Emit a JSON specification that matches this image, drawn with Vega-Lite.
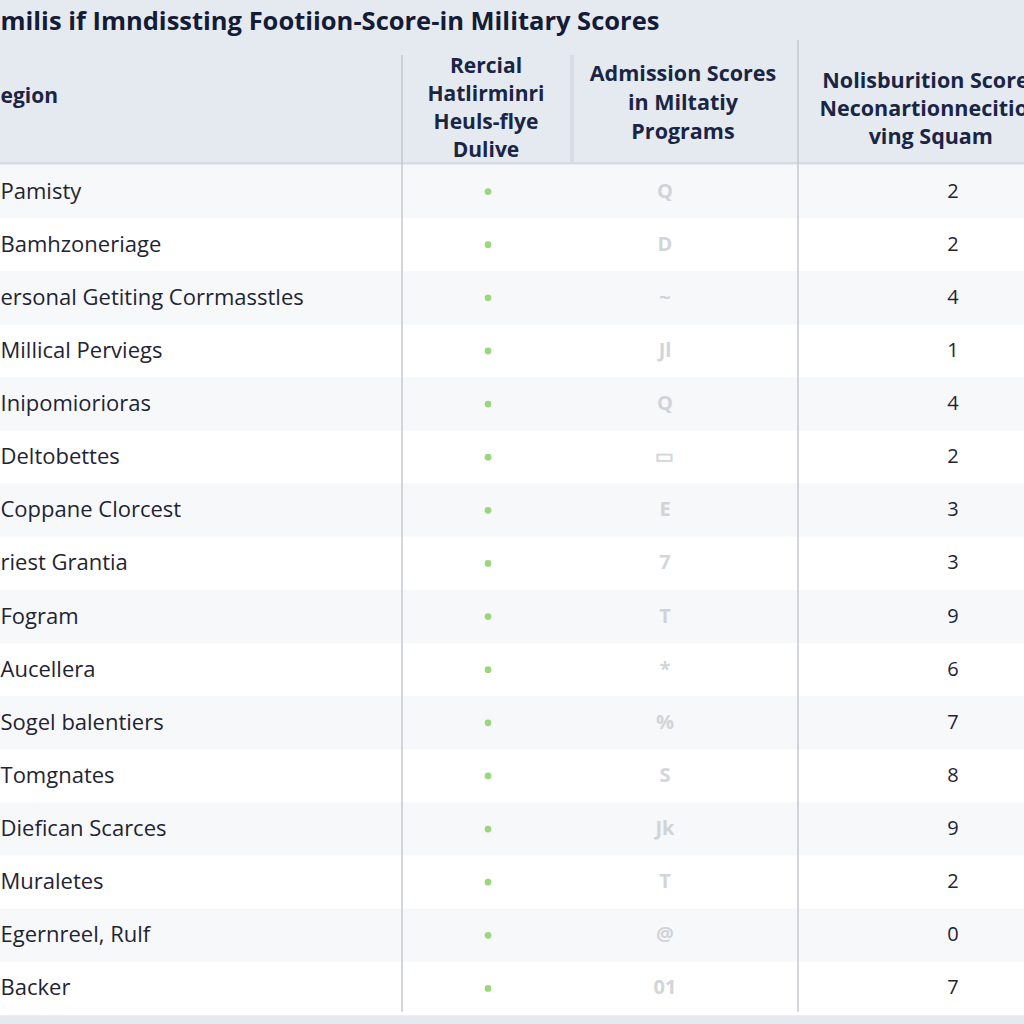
{
  "$schema": "https://vega.github.io/schema/vega-lite/v6.json",
  "width": 1024,
  "height": 1024,
  "autosize": {"type": "none"},
  "padding": 0,
  "background": "#e5eaf0",
  "config": {"view": {"stroke": null}, "font": "Open Sans"},
  "datasets": {
    "rows": [
      {"i": 1, "region": "Pamisty", "glyph": "Q", "score": "2"},
      {"i": 2, "region": "Bamhzoneriage", "glyph": "D", "score": "2"},
      {"i": 3, "region": "ersonal Getiting Corrmasstles", "glyph": "~", "score": "4"},
      {"i": 4, "region": "Millical Perviegs", "glyph": "Jl", "score": "1"},
      {"i": 5, "region": "Inipomiorioras", "glyph": "Q", "score": "4"},
      {"i": 6, "region": "Deltobettes", "glyph": "▭", "score": "2"},
      {"i": 7, "region": "Coppane Clorcest", "glyph": "E", "score": "3"},
      {"i": 8, "region": "riest Grantia", "glyph": "7", "score": "3"},
      {"i": 9, "region": "Fogram", "glyph": "T", "score": "9"},
      {"i": 10, "region": "Aucellera", "glyph": "*", "score": "6"},
      {"i": 11, "region": "Sogel balentiers", "glyph": "%", "score": "7"},
      {"i": 12, "region": "Tomgnates", "glyph": "S", "score": "8"},
      {"i": 13, "region": "Diefican Scarces", "glyph": "Jk", "score": "9"},
      {"i": 14, "region": "Muraletes", "glyph": "T", "score": "2"},
      {"i": 15, "region": "Egernreel, Rulf", "glyph": "@", "score": "0"},
      {"i": 16, "region": "Backer", "glyph": "01", "score": "7"}
    ]
  },
  "data": {"name": "rows"},
  "layer": [
    {
      "mark": {"type": "rule", "strokeWidth": 53.6, "strokeCap": "butt"},
      "encoding": {
        "x": {"datum": 0, "type": "quantitative", "scale": {"domain": [0, 100], "nice": false, "zero": false}, "axis": null},
        "x2": {"datum": 100},
        "y": {"field": "i", "type": "quantitative", "scale": {"domain": [-2.606, 16.669], "reverse": true, "nice": false, "zero": false}, "axis": null},
        "color": {"condition": {"test": "datum.i % 2 == 1", "value": "#f7f8fa"}, "value": "#ffffff"}
      }
    },
    {
      "data": {"values": [{}]},
      "mark": {"type": "rule", "strokeWidth": 2, "color": "#d6dce2"},
      "encoding": {"x": {"datum": 0}, "x2": {"datum": 100}, "y": {"datum": 0.46}}
    },
    {
      "data": {"values": [{}]},
      "mark": {"type": "rule", "strokeWidth": 1.5, "color": "#c3c9cf"},
      "encoding": {"x": {"datum": 39.26}, "y": {"datum": -1.571}, "y2": {"datum": 16.44}}
    },
    {
      "data": {"values": [{}]},
      "mark": {"type": "rule", "strokeWidth": 1.5, "color": "#c3c9cf"},
      "encoding": {"x": {"datum": 77.93}, "y": {"datum": -1.853}, "y2": {"datum": 16.44}}
    },
    {
      "data": {"values": [{}]},
      "mark": {"type": "rule", "strokeWidth": 4, "color": "#d3d9df", "opacity": 0.7},
      "encoding": {"x": {"datum": 55.86}, "y": {"datum": -1.571}, "y2": {"datum": 0.45}}
    },
    {
      "mark": {"type": "text", "align": "left", "baseline": "middle", "fontSize": 22, "color": "#1f2433"},
      "encoding": {"x": {"datum": 0.05}, "y": {"field": "i", "type": "quantitative"}, "text": {"field": "region"}}
    },
    {
      "mark": {"type": "point", "filled": true, "size": 45, "color": "#8fd16e", "opacity": 0.9},
      "encoding": {"x": {"datum": 47.66}, "y": {"field": "i", "type": "quantitative"}}
    },
    {
      "mark": {"type": "text", "align": "center", "baseline": "middle", "fontSize": 20, "fontWeight": "bold", "color": "#c3c8cf", "opacity": 0.75},
      "encoding": {"x": {"datum": 64.94}, "y": {"field": "i", "type": "quantitative"}, "text": {"field": "glyph"}}
    },
    {
      "mark": {"type": "text", "align": "center", "baseline": "middle", "fontSize": 20, "color": "#1f2433"},
      "encoding": {"x": {"datum": 93.07}, "y": {"field": "i", "type": "quantitative"}, "text": {"field": "score"}}
    },
    {
      "data": {"values": [{}]},
      "mark": {"type": "text", "align": "left", "baseline": "middle", "fontSize": 25.5, "fontWeight": "bold", "color": "#141b36", "text": "milis if Imndissting Footiion-Score-in Military Scores"},
      "encoding": {"x": {"datum": 0.05}, "y": {"datum": -2.192}}
    },
    {
      "data": {"values": [{}]},
      "mark": {"type": "text", "align": "left", "baseline": "middle", "fontSize": 21, "fontWeight": "bold", "color": "#1a2544", "text": "egion"},
      "encoding": {"x": {"datum": 0.05}, "y": {"datum": -0.78}}
    },
    {
      "data": {"values": [{}]},
      "mark": {"type": "text", "align": "center", "baseline": "middle", "fontSize": 21, "fontWeight": "bold", "color": "#1a2544", "lineBreak": "\n", "lineHeight": 28, "text": "Rercial\nHatlirminri\nHeuls-flye\nDulive"},
      "encoding": {"x": {"datum": 47.46}, "y": {"datum": -1.345}}
    },
    {
      "data": {"values": [{}]},
      "mark": {"type": "text", "align": "center", "baseline": "middle", "fontSize": 21.5, "fontWeight": "bold", "color": "#1a2544", "lineBreak": "\n", "lineHeight": 29, "text": "Admission Scores\nin Miltatiy\nPrograms"},
      "encoding": {"x": {"datum": 66.7}, "y": {"datum": -1.194}}
    },
    {
      "data": {"values": [{}]},
      "mark": {"type": "text", "align": "center", "baseline": "middle", "fontSize": 21.5, "fontWeight": "bold", "color": "#1a2544", "lineBreak": "\n", "lineHeight": 28, "text": "Nolisburition Scores\nNeconartionnecition\nving Squam"},
      "encoding": {"x": {"datum": 90.9}, "y": {"datum": -1.062}}
    }
  ]
}
